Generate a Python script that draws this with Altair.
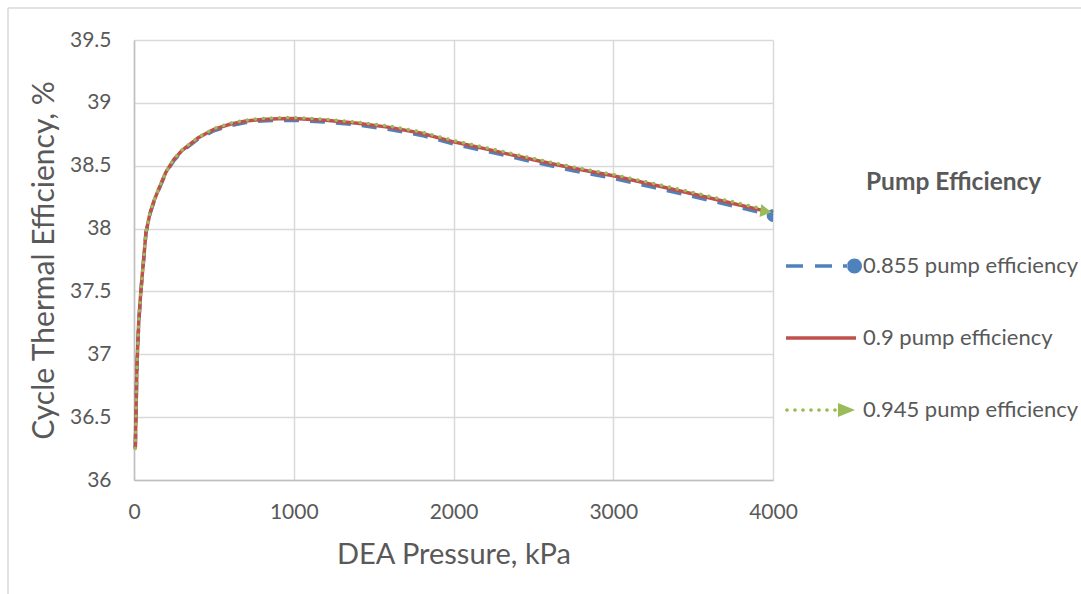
import altair as alt
import pandas as pd

# DEA pressure (kPa) sample points
pressure_kpa = [8, 12, 16, 20, 25, 30, 40, 50, 60, 75, 100, 125, 150, 200, 250, 300,
                400, 500, 600, 700, 800, 900, 1000, 1200, 1400, 1600, 1800, 2000,
                2250, 2500, 2750, 3000, 3250, 3500, 3750, 4000]

# Cycle thermal efficiency (%) for each pump efficiency
eff_855 = [36.248, 36.498, 36.758, 36.958, 37.118, 37.258, 37.446, 37.606, 37.746,
           37.966, 38.116, 38.214, 38.294, 38.444, 38.541, 38.611, 38.711, 38.778,
           38.818, 38.843, 38.856, 38.860, 38.861, 38.848, 38.824, 38.788, 38.741,
           38.673, 38.603, 38.530, 38.460, 38.400, 38.328, 38.255, 38.180, 38.103]
eff_900 = [36.250, 36.500, 36.760, 36.960, 37.120, 37.260, 37.450, 37.610, 37.750,
           37.970, 38.120, 38.220, 38.300, 38.450, 38.550, 38.620, 38.720, 38.790,
           38.830, 38.855, 38.868, 38.874, 38.875, 38.862, 38.838, 38.805, 38.758,
           38.690, 38.620, 38.547, 38.480, 38.420, 38.348, 38.275, 38.200, 38.125]
eff_945 = [36.251, 36.501, 36.761, 36.961, 37.121, 37.261, 37.451, 37.611, 37.753,
           37.973, 38.123, 38.223, 38.303, 38.453, 38.555, 38.625, 38.725, 38.795,
           38.838, 38.863, 38.876, 38.882, 38.883, 38.870, 38.846, 38.815, 38.768,
           38.700, 38.630, 38.557, 38.490, 38.430, 38.360, 38.287, 38.212, 38.137]

series_names = ["0.855 pump efficiency", "0.9 pump efficiency", "0.945 pump efficiency"]
series_colors = ["#4F81BD", "#C0504D", "#9BBB59"]

x_ticks = [0, 1000, 2000, 3000, 4000]
y_ticks = [36, 36.5, 37, 37.5, 38, 38.5, 39, 39.5]

rows = []
for name, values in zip(series_names, [eff_855, eff_900, eff_945]):
    for p, v in zip(pressure_kpa, values):
        rows.append({"pressure": p, "efficiency": v, "series": name})
df = pd.DataFrame(rows)
last_p = pressure_kpa[-1]

FONT = "Lato"
TEXT = "#595959"
GRID = "#D9D9D9"
AXIS = "#BFBFBF"
LW = 3.5


# Legend glyphs (unit square -1..1): line sample plus the series' line-end marker
def rect(x0, x1, h):
    return f"M{x0:.3f},{-h:.3f}H{x1:.3f}V{h:.3f}H{x0:.3f}Z"


def disc(cx, r):
    return (f"M{cx - r:.3f},0A{r:.3f},{r:.3f},0,1,0,{cx + r:.3f},0"
            f"A{r:.3f},{r:.3f},0,1,0,{cx - r:.3f},0Z")


blue_sym = rect(-1.0, -0.54, 0.047) + rect(-0.216, 0.243, 0.047) + rect(0.54, 0.66, 0.047) + disc(0.851, 0.203)
red_sym = rect(-1.0, 0.892, 0.05)
green_sym = "".join(disc(c, 0.05) for c in [-0.973, -0.757, -0.541, -0.324, -0.108, 0.108, 0.324]) \
    + "M0.405,-0.19L0.865,0L0.405,0.19Z"


def pick(a, b, c):
    return (f"datum.value === '{series_names[0]}' ? {a} : "
            f"datum.value === '{series_names[2]}' ? {c} : {b}")


legend = alt.Legend(
    title=None,
    orient="none",
    legendX=652,
    legendY=189,
    padding=0,
    labelFont=FONT,
    labelFontSize=22,
    labelColor=TEXT,
    labelOffset=3,
    labelLimit=500,
    symbolSize=5476,
    symbolStrokeWidth=0,
    symbolType={"expr": pick(f"'{blue_sym}'", f"'{red_sym}'", f"'{green_sym}'")},
    symbolFillColor={"expr": pick(f"'{series_colors[0]}'", f"'{series_colors[1]}'", f"'{series_colors[2]}'")},
    rowPadding=24,
)

# heading placed above the legend entries
legend_heading = alt.TitleParams(
    "Pump Efficiency", anchor="start", align="left", frame="group",
    baseline="middle", offset=0, dx=732, dy=200,
    font=FONT, fontSize=24.5, fontWeight="bold", color=TEXT,
)

x = alt.X("pressure:Q", scale=alt.Scale(domain=[0, 4000], nice=False),
          axis=alt.Axis(values=x_ticks, format="d", labelFlush=False, title="DEA Pressure, kPa"))
y = alt.Y("efficiency:Q", scale=alt.Scale(domain=[36, 39.5], nice=False, zero=False),
          axis=alt.Axis(values=y_ticks, format="~g", labelFlush=False, title="Cycle Thermal Efficiency, %"))
color = alt.Color("series:N", scale=alt.Scale(domain=series_names, range=series_colors),
                  legend=legend)

base = alt.Chart(df).encode(x=x, y=y, color=color)

line_blue = base.transform_filter(alt.datum.series == series_names[0]).mark_line(
    strokeWidth=LW, strokeDash=[15, 11])
line_red = base.transform_filter(alt.datum.series == series_names[1]).mark_line(
    strokeWidth=LW)
line_green = base.transform_filter(alt.datum.series == series_names[2]).mark_line(
    strokeWidth=LW, strokeDash=[0.1, 8], strokeCap="round")

end_blue = base.transform_filter(
    (alt.datum.series == series_names[0]) & (alt.datum.pressure == last_p)
).mark_point(shape="circle", filled=True, size=160, opacity=1, clip=True)
end_green = base.transform_filter(
    (alt.datum.series == series_names[2]) & (alt.datum.pressure == last_p)
).mark_point(shape="triangle-right", filled=True, size=170, opacity=1, xOffset=-7, angle=8)

# Chart-area frame (top and left edges)
frame_df = pd.DataFrame({"k": [0]})
frame_top = alt.Chart(frame_df).mark_rule(color=GRID, strokeWidth=1.5).encode(
    x=alt.value(-126), x2=alt.value(960), y=alt.value(-32))
frame_left = alt.Chart(frame_df).mark_rule(color=GRID, strokeWidth=1.5).encode(
    x=alt.value(-126), y=alt.value(-32), y2=alt.value(600))

chart = alt.layer(
    frame_top, frame_left, line_blue, line_red, line_green, end_blue, end_green
).properties(
    title=legend_heading,
    width=639, height=440,
    autosize=alt.AutoSizeParams(type="none"),
    padding={"left": 134, "top": 40, "right": 308, "bottom": 114},
    background="white",
).configure_view(strokeWidth=0).configure_axis(
    grid=True, gridColor=GRID, gridWidth=1.5,
    domainColor=AXIS, domainWidth=1.5,
    ticks=False,
    labelFont=FONT, labelFontSize=21, labelColor=TEXT,
    titleFont=FONT, titleColor=TEXT, titleFontWeight="normal",
).configure_axisX(labelPadding=21, titlePadding=18, titleFontSize=29).configure_axisY(
    labelPadding=23, titlePadding=10, titleFontSize=30)

chart.save("out.html", embed_options={"renderer": "svg", "actions": False})
